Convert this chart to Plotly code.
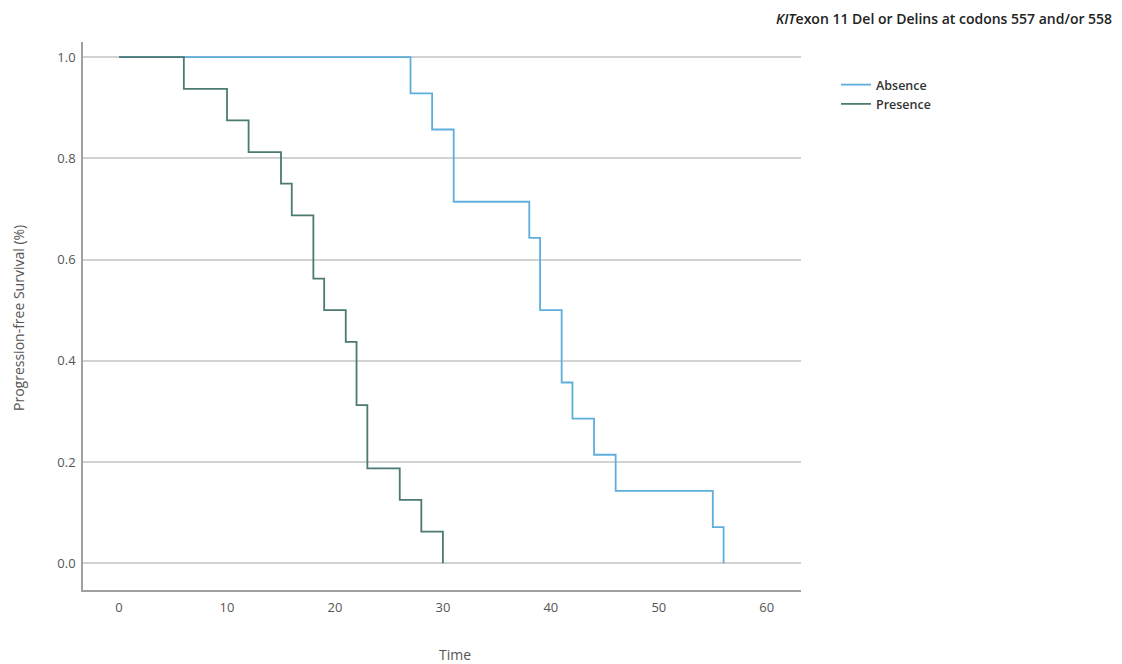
import plotly.graph_objects as go

# Kaplan-Meier step data
absence_time = [0, 27, 29, 31, 38, 39, 41, 42, 44, 46, 55, 56]
absence_surv = [1.0, 0.9286, 0.8571, 0.7143, 0.6429, 0.5, 0.3571, 0.2857, 0.2143, 0.1429, 0.0714, 0.0]

presence_time = [0, 6, 10, 12, 15, 16, 18, 19, 21, 22, 23, 26, 28, 30]
presence_surv = [1.0, 0.9375, 0.875, 0.8125, 0.75, 0.6875, 0.5625, 0.5, 0.4375, 0.3125, 0.1875, 0.125, 0.0625, 0.0]

x_ticks = [0, 10, 20, 30, 40, 50, 60]
y_ticks = [0.0, 0.2, 0.4, 0.6, 0.8, 1.0]

FONT = "Open Sans"

fig = go.Figure()
fig.add_trace(go.Scatter(
    x=absence_time, y=absence_surv, mode="lines", name="Absence",
    line=dict(shape="hv", color="#5eaedc", width=1.8),
))
fig.add_trace(go.Scatter(
    x=presence_time, y=presence_surv, mode="lines", name="Presence",
    line=dict(shape="hv", color="#4b7a72", width=1.8),
))

fig.update_layout(
    width=1122, height=664,
    margin=dict(l=83, r=321, t=42, b=74),
    paper_bgcolor="white", plot_bgcolor="white",
    font=dict(family=FONT, color="#555555", size=13),
    showlegend=True,
    legend=dict(
        x=(836 - 83) / 718, y=(590 - 70) / 548, xanchor="left", yanchor="top",
        font=dict(family=FONT, size=12.5, color="#333333", weight=600),
        bgcolor="rgba(0,0,0,0)", tracegroupgap=0, itemwidth=30,
    ),
    xaxis=dict(
        range=[-3.34, 63.17], tickvals=x_ticks, showgrid=False, zeroline=False,
        showline=True, linecolor="#a0a0a0", linewidth=1.5,
        ticks="outside", ticklen=5, tickcolor="rgba(0,0,0,0)",
        tickfont=dict(size=13, color="#555555"),
    ),
    yaxis=dict(
        range=[-0.053, 1.03], tickvals=y_ticks, tickformat=".1f",
        showgrid=True, gridcolor="#d2d2d2", gridwidth=1.5, zeroline=False,
        showline=True, linecolor="#a0a0a0", linewidth=1.5,
        ticks="outside", ticklen=3, tickcolor="rgba(0,0,0,0)",
        tickfont=dict(size=13, color="#555555"),
    ),
    annotations=[
        dict(text="<i>KIT</i>exon 11 Del or Delins at codons 557 and/or 558",
             xref="paper", yref="paper", x=(1114 - 83) / 718, y=(590 - 18) / 548,
             xanchor="right", yanchor="middle", showarrow=False,
             font=dict(family=FONT, size=14, color="#222222", weight=600)),
        dict(text="Time", xref="paper", yref="paper",
             x=(455 - 83) / 718, y=(590 - 654) / 548,
             xanchor="center", yanchor="middle", showarrow=False,
             font=dict(family=FONT, size=14, color="#555555")),
        dict(text="Progression-free Survival (%)", xref="paper", yref="paper",
             x=(19 - 83) / 718, y=(590 - 318) / 548, textangle=-90,
             xanchor="center", yanchor="middle", showarrow=False,
             font=dict(family=FONT, size=14, color="#555555")),
    ],
)

fig.write_html("out.html")
